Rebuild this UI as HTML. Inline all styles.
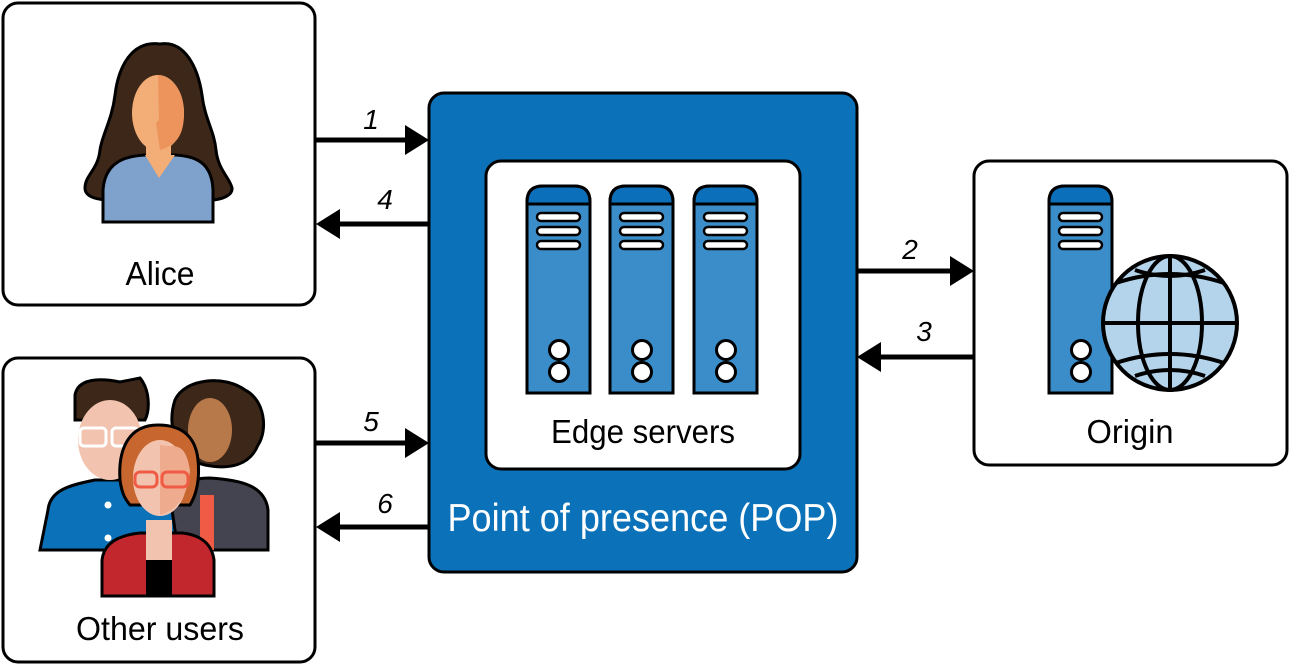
<!DOCTYPE html>
<html><head><meta charset="utf-8"><style>
html,body{margin:0;padding:0;background:#fff;}
svg{display:block;}
text{font-family:"Liberation Sans",sans-serif;}
</style></head><body>
<svg width="1290" height="665" viewBox="0 0 1290 665" xmlns="http://www.w3.org/2000/svg">
<defs>
<g id="srv">
 <path d="M0,207 V16 Q0,0 16,0 H47 Q63,0 63,16 V207 Z" fill="#3a8dc9" stroke="#000" stroke-width="3"/>
 <path d="M0,16 Q0,0 16,0 H47 Q63,0 63,16 V18 H0 Z" fill="#0b6fba" stroke="#000" stroke-width="3"/>
 <rect x="10" y="27" width="43" height="8" rx="4" fill="#fff" stroke="#000" stroke-width="2.5"/>
 <rect x="10" y="41" width="43" height="8" rx="4" fill="#fff" stroke="#000" stroke-width="2.5"/>
 <rect x="10" y="55" width="43" height="8" rx="4" fill="#fff" stroke="#000" stroke-width="2.5"/>
 <circle cx="32" cy="164" r="9.5" fill="#fff" stroke="#000" stroke-width="3"/>
 <circle cx="32" cy="186" r="9.5" fill="#fff" stroke="#000" stroke-width="3"/>
</g>
</defs>
<rect x="3" y="3" width="312" height="302" rx="15" fill="#fff" stroke="#000" stroke-width="3"/>
<rect x="3" y="358" width="312" height="304" rx="15" fill="#fff" stroke="#000" stroke-width="3"/>
<rect x="429" y="93" width="428" height="479" rx="15" fill="#0b72b9" stroke="#000" stroke-width="3"/>
<rect x="486" y="161" width="314" height="308" rx="15" fill="#fff" stroke="#000" stroke-width="3"/>
<rect x="974" y="161" width="313" height="304" rx="15" fill="#fff" stroke="#000" stroke-width="3"/>

<g stroke="#000" stroke-width="5" fill="none">
<line x1="316" y1="140" x2="410" y2="140"/>
<line x1="336" y1="224" x2="429" y2="224"/>
<line x1="316" y1="443" x2="410" y2="443"/>
<line x1="336" y1="527" x2="429" y2="527"/>
<line x1="857" y1="271" x2="952" y2="271"/>
<line x1="878" y1="357" x2="974" y2="357"/>
</g>
<g fill="#000">
<polygon points="405,125 429,140 405,155"/>
<polygon points="340,209 316,224 340,239"/>
<polygon points="405,428 429,443 405,458"/>
<polygon points="340,512 316,527 340,542"/>
<polygon points="950,256 974,271 950,286"/>
<polygon points="881,342 857,357 881,372"/>
</g>
<g font-size="28" font-style="italic" text-anchor="middle" fill="#000">
<text x="371" y="129">1</text>
<text x="385" y="209">4</text>
<text x="910" y="259">2</text>
<text x="924" y="341">3</text>
<text x="371" y="431">5</text>
<text x="385" y="513">6</text>
</g>

<use href="#srv" x="527" y="186"/>
<use href="#srv" x="610" y="186"/>
<use href="#srv" x="694" y="186"/>
<use href="#srv" x="1049" y="186"/>

<g stroke="#000" stroke-width="4" fill="none">
<circle cx="1170" cy="323" r="67" fill="#b3d4ea"/>
<ellipse cx="1170" cy="323" rx="32" ry="67"/>
<line x1="1170" y1="256" x2="1170" y2="390"/>
<line x1="1103" y1="323" x2="1237" y2="323"/>
<path d="M1116,283 Q1170,265 1224,283"/>
<path d="M1116,363 Q1170,345 1224,363"/>
<path d="M1135,270 Q1170,282 1205,270"/>
<path d="M1135,376 Q1170,364 1205,376"/>
</g>

<g stroke="#000" stroke-width="3">
<path d="M160,44 C130,40 118,70 115,95 C112,120 102,135 100,150 C98,170 85,175 85,188 C85,198 100,200 110,200 L210,200 C222,200 233,195 232,188 C230,178 218,170 216,150 C214,130 205,120 202,95 C198,68 185,40 160,44 Z" fill="#3d2719"/>
<path d="M103,222 L103,190 C105,162 125,156 145,155 L175,155 C195,156 212,162 213,190 L213,222 Z" fill="#7fa2cc"/>
</g>
<path d="M145,155 L159,178 L175,155 Z" fill="#f3ad76"/>
<rect x="146" y="135" width="25" height="22" fill="#f3ad76"/>
<ellipse cx="158" cy="113" rx="26" ry="38" fill="#f3ad76"/>
<path d="M158,75 C175,78 184,93 184,113 C184,133 178,145 160,150 L156,123 L159,120 Z" fill="#ec945c"/>
<text x="160" y="285" font-size="33" text-anchor="middle" fill="#000" textLength="69" lengthAdjust="spacingAndGlyphs">Alice</text>

<g stroke="#000" stroke-width="3">
<path d="M170,550 L170,505 C172,485 190,478 210,478 C240,480 265,485 268,510 L268,550 Z" fill="#444450"/>
<path d="M175,400 C185,378 225,375 245,390 C265,400 268,430 258,445 C250,465 230,470 205,465 C180,460 165,430 175,400 Z" fill="#3d2719"/>
<path d="M40,550 L48,510 C50,490 70,485 95,480 L140,480 C160,485 170,495 172,510 L178,550 Z" fill="#0b72b9"/>
<path d="M75,395 C78,378 100,378 120,382 L140,378 C150,390 150,410 145,420 L75,420 Z" fill="#3d2719"/>
</g>
<ellipse cx="210" cy="430" rx="22" ry="32" fill="#b8794a"/>
<rect x="200" y="495" width="14" height="55" fill="#ef5b44"/>
<ellipse cx="110" cy="440" rx="32" ry="40" fill="#f2c4b0"/>
<rect x="80" y="428" width="26" height="18" rx="4" fill="none" stroke="#fff" stroke-width="3"/>
<rect x="112" y="428" width="26" height="18" rx="4" fill="none" stroke="#fff" stroke-width="3"/>
<circle cx="108" cy="505" r="3.5" fill="#fff"/>
<circle cx="108" cy="538" r="3.5" fill="#fff"/>
<g stroke="#000" stroke-width="3">
<path d="M102,596 L102,560 C104,542 120,535 140,533 L182,533 C202,535 212,545 214,560 L214,596 Z" fill="#c1272d"/>
<path d="M158,425 C128,425 118,450 120,480 C122,495 126,500 130,505 L190,505 C196,495 200,480 198,460 C196,440 185,425 158,425 Z" fill="#c7672f"/>
</g>
<rect x="146" y="520" width="26" height="76" fill="#f2c4b0"/>
<rect x="146" y="560" width="26" height="36" fill="#000"/>
<ellipse cx="160" cy="478" rx="27" ry="38" fill="#f2c4b0"/>
<path d="M160,445 C175,448 185,440 190,470 C188,495 178,510 160,515 Z" fill="#eeab8e"/>
<rect x="135" y="472" width="22" height="15" rx="5" fill="none" stroke="#ef5b44" stroke-width="3"/>
<rect x="162" y="472" width="26" height="15" rx="5" fill="none" stroke="#ef5b44" stroke-width="3"/>
<text x="160" y="640" font-size="33" text-anchor="middle" fill="#000" textLength="168" lengthAdjust="spacingAndGlyphs">Other users</text>

<text x="643" y="443" font-size="33" text-anchor="middle" fill="#000" textLength="184" lengthAdjust="spacingAndGlyphs">Edge servers</text>
<text x="1130" y="443" font-size="33" text-anchor="middle" fill="#000" textLength="87" lengthAdjust="spacingAndGlyphs">Origin</text>
<text x="643" y="531" font-size="39" text-anchor="middle" fill="#fff" textLength="391" lengthAdjust="spacingAndGlyphs">Point of presence (POP)</text>
</svg>
</body></html>
